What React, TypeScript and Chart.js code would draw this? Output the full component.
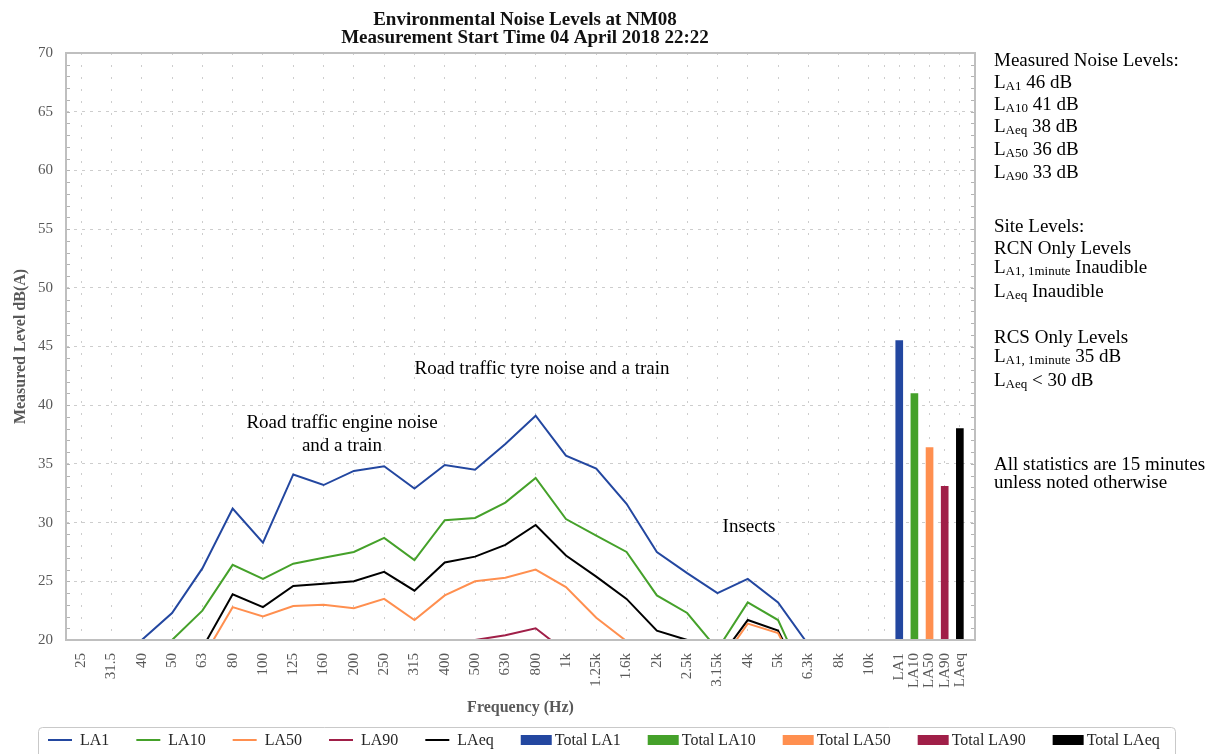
import React, { useEffect, useRef } from 'react';
import { Chart, registerables } from 'chart.js';

Chart.register(...registerables);

// ---------- data ----------
const FREQUENCIES = ['25', '31.5', '40', '50', '63', '80', '100', '125', '160', '200', '250', '315', '400', '500', '630', '800', '1k', '1.25k', '1.6k', '2k', '2.5k', '3.15k', '4k', '5k', '6.3k', '8k', '10k'];
const TOTAL_LABELS = ['LA1', 'LA10', 'LA50', 'LA90', 'LAeq'];
const TOTAL_POSITIONS = [27, 27.5, 28, 28.5, 29];
const SEPARATOR_TICK = 26.5;

const LA1_VALUES = [null, null, 20.0, 22.3, 26.1, 31.2, 28.3, 34.1, 33.2, 34.4, 34.8, 32.9, 34.9, 34.5, 36.7, 39.1, 35.7, 34.6, 31.6, 27.5, 25.7, 24.0, 25.2, 23.2, 19.6, null, null];
const LA10_VALUES = [null, null, null, 20.0, 22.5, 26.4, 25.2, 26.5, 27.0, 27.5, 28.7, 26.8, 30.2, 30.4, 31.7, 33.8, 30.3, 28.9, 27.5, 23.8, 22.3, 19.2, 23.2, 21.7, 16.1, null, null];
const LA50_VALUES = [null, null, null, null, 18.4, 22.8, 22.0, 22.9, 23.0, 22.7, 23.5, 21.7, 23.8, 25.0, 25.3, 26.0, 24.5, 21.9, 19.9, null, null, 17.7, 21.4, 20.6, 15.5, null, null];
const LA90_VALUES = [null, null, null, null, null, null, null, null, null, null, null, null, null, 20.0, 20.4, 21.0, 19.0, null, null, null, null, null, null, null, null, null, null];
const LAEQ_VALUES = [null, null, null, null, 19.3, 23.9, 22.8, 24.6, 24.8, 25.0, 25.8, 24.2, 26.6, 27.1, 28.1, 29.8, 27.2, 25.4, 23.5, 20.8, 20.0, 18.2, 21.7, 20.8, 15.7, null, null];

const TOTAL_VALUES = [45.5, 41.0, 36.4, 33.1, 38.0];

const SERIES_NAMES = ['LA1', 'LA10', 'LA50', 'LA90', 'LAeq'];
const SERIES_VALUES = [LA1_VALUES, LA10_VALUES, LA50_VALUES, LA90_VALUES, LAEQ_VALUES];
const SERIES_COLORS = ['#2347A0', '#45A12A', '#FF8F4F', '#A01F48', '#000000'];
const TOTAL_NAMES = ['Total LA1', 'Total LA10', 'Total LA50', 'Total LA90', 'Total LAeq'];

const TITLE_LINES = ['Environmental Noise Levels at NM08', 'Measurement Start Time 04 April 2018 22:22'];
const X_TITLE = 'Frequency (Hz)';
const Y_TITLE = 'Measured Level dB(A)';

const ANNOTATIONS = [
  { text: 'Road traffic tyre noise and a train', x: 542, y: 374 },
  { text: 'Road traffic engine noise', x: 342, y: 428 },
  { text: 'and a train', x: 342, y: 451 },
  { text: 'Insects', x: 749, y: 532 },
];

// side panel: [text, isSubscript]
const PANEL_LINES: [string, boolean][][] = [
  [['Measured Noise Levels:', false]],
  [['L', false], ['A1', true], [' 46 dB', false]],
  [['L', false], ['A10', true], [' 41 dB', false]],
  [['L', false], ['Aeq', true], [' 38 dB', false]],
  [['L', false], ['A50', true], [' 36 dB', false]],
  [['L', false], ['A90', true], [' 33 dB', false]],
  [['Site Levels:', false]],
  [['RCN Only Levels', false]],
  [['L', false], ['A1, 1minute', true], [' Inaudible', false]],
  [['L', false], ['Aeq', true], [' Inaudible', false]],
  [['RCS Only Levels', false]],
  [['L', false], ['A1, 1minute', true], [' 35 dB', false]],
  [['L', false], ['Aeq', true], [' < 30 dB', false]],
  [['All statistics are 15 minutes', false]],
  [['unless noted otherwise', false]],
];
const PANEL_BASELINES = [66, 87.5, 109.5, 131.5, 155, 177.5, 232, 254, 272.5, 297, 343, 362, 386, 470, 488];

// ---------- style ----------
const SERIF = '"Liberation Serif", "Times New Roman", serif';
const AXIS_GREY = '#595959';
const GRID_GREY = '#cdcdcd';
const FRAME_GREY = '#bfbfbf';

const X_TICK_VALUES = [...FREQUENCIES.map((_, i) => i), SEPARATOR_TICK, ...TOTAL_POSITIONS];

function xLabel(v: number): string {
  if (Number.isInteger(v) && v >= 0 && v < FREQUENCIES.length) return FREQUENCIES[v];
  const k = TOTAL_POSITIONS.indexOf(v);
  return k >= 0 ? TOTAL_LABELS[k] : '';
}

const decorPlugin = {
  id: 'decor',
  afterDatasetsDraw(chart: any) {
    const { ctx, chartArea } = chart;
    const { left, top, right, bottom } = chartArea;
    const y = chart.scales.y;
    ctx.save();
    ctx.strokeStyle = '#b3b3b3';
    ctx.lineWidth = 1;
    ctx.beginPath();
    for (let v = 21; v < 70; v++) {
      const py = Math.round(y.getPixelForValue(v)) + 0.5;
      ctx.moveTo(left, py);
      ctx.lineTo(left + 4, py);
      ctx.moveTo(right - 4, py);
      ctx.lineTo(right, py);
    }
    ctx.stroke();
    ctx.strokeStyle = FRAME_GREY;
    ctx.lineWidth = 2;
    ctx.strokeRect(left, top, right - left, bottom - top);
    ctx.restore();
  },
  afterDraw(chart: any) {
    const { ctx, chartArea } = chart;
    ctx.save();
    // title
    ctx.fillStyle = '#111111';
    ctx.font = `bold 19px ${SERIF}`;
    ctx.textAlign = 'center';
    ctx.textBaseline = 'alphabetic';
    ctx.fillText(TITLE_LINES[0], 525, 25);
    ctx.fillText(TITLE_LINES[1], 525, 43);

    // axis titles
    ctx.fillStyle = AXIS_GREY;
    ctx.font = `bold 16px ${SERIF}`;
    ctx.fillText(X_TITLE, (chartArea.left + chartArea.right) / 2, 712);
    ctx.save();
    ctx.translate(21, (chartArea.top + chartArea.bottom) / 2);
    ctx.rotate(-Math.PI / 2);
    ctx.textBaseline = 'middle';
    ctx.fillText(Y_TITLE, 0, 0);
    ctx.restore();

    // annotations
    ctx.fillStyle = '#000000';
    ctx.font = `19px ${SERIF}`;
    ctx.textAlign = 'center';
    ctx.textBaseline = 'alphabetic';
    ANNOTATIONS.forEach((a) => ctx.fillText(a.text, a.x, a.y));

    // side panel
    ctx.textAlign = 'left';
    PANEL_LINES.forEach((parts, i) => {
      let x = 994;
      const base = PANEL_BASELINES[i];
      parts.forEach(([t, sub]) => {
        ctx.font = sub ? `13px ${SERIF}` : `19px ${SERIF}`;
        ctx.fillText(t, x, sub ? base + 2 : base);
        x += ctx.measureText(t).width;
      });
    });

    // legend
    ctx.strokeStyle = '#c9c9c9';
    ctx.lineWidth = 1;
    ctx.beginPath();
    const lx = 38.5, ly = 727.5, lw = 1137, lh = 40, r = 4;
    ctx.moveTo(lx + r, ly);
    ctx.lineTo(lx + lw - r, ly);
    ctx.quadraticCurveTo(lx + lw, ly, lx + lw, ly + r);
    ctx.lineTo(lx + lw, ly + lh);
    ctx.moveTo(lx, ly + lh);
    ctx.lineTo(lx, ly + r);
    ctx.quadraticCurveTo(lx, ly, lx + r, ly);
    ctx.stroke();

    ctx.font = `16px ${SERIF}`;
    ctx.textBaseline = 'middle';
    const cy = 740;
    let x = 48;
    SERIES_NAMES.forEach((name, i) => {
      ctx.strokeStyle = SERIES_COLORS[i];
      ctx.lineWidth = 2;
      ctx.beginPath();
      ctx.moveTo(x, cy);
      ctx.lineTo(x + 24, cy);
      ctx.stroke();
      ctx.fillStyle = '#262626';
      ctx.fillText(name, x + 32, cy + 1);
      x += 32 + ctx.measureText(name).width + 27;
    });
    TOTAL_NAMES.forEach((name, i) => {
      ctx.fillStyle = SERIES_COLORS[i];
      ctx.fillRect(x, cy - 5, 31, 10);
      ctx.fillStyle = '#262626';
      ctx.fillText(name, x + 34, cy + 1);
      x += 34 + ctx.measureText(name).width + 27;
    });
    ctx.restore();
  },
};

export default function App() {
  const canvasRef = useRef<HTMLCanvasElement | null>(null);

  useEffect(() => {
    const canvas = canvasRef.current;
    if (!canvas) return;

    const lineDatasets = SERIES_NAMES.map((name, i) => ({
      type: 'line' as const,
      label: name,
      data: SERIES_VALUES[i].map((v, k) => ({ x: k, y: v })),
      borderColor: SERIES_COLORS[i],
      backgroundColor: SERIES_COLORS[i],
      borderWidth: 2,
      pointRadius: 0,
      tension: 0,
      spanGaps: false,
      clip: 0,
    }));

    const barDatasets = TOTAL_NAMES.map((name, i) => ({
      type: 'bar' as const,
      label: name,
      data: [{ x: TOTAL_POSITIONS[i], y: TOTAL_VALUES[i] }],
      backgroundColor: SERIES_COLORS[i],
      borderWidth: 0,
      barThickness: 7,
      grouped: false,
      base: 20,
    }));

    const chart = new Chart(canvas, {
      type: 'line',
      data: { datasets: [...lineDatasets, ...barDatasets] as any },
      options: {
        animation: false,
        responsive: false,
        maintainAspectRatio: false,
        layout: { padding: { top: 53, right: 241, left: 0, bottom: 0 } },
        plugins: {
          legend: { display: false },
          tooltip: { enabled: false },
          title: { display: false },
        },
        scales: {
          x: {
            type: 'linear',
            min: -0.5,
            max: 29.5,
            offset: false,
            afterBuildTicks: (s: any) => {
              s.ticks = X_TICK_VALUES.map((v) => ({ value: v }));
            },
            afterFit: (s: any) => {
              s.height = 114;
            },
            ticks: {
              autoSkip: false,
              minRotation: 90,
              maxRotation: 90,
              padding: 13,
              color: AXIS_GREY,
              font: { family: SERIF, size: 15 },
              callback: (v: any) => xLabel(Number(v)),
            },
            grid: { color: GRID_GREY, lineWidth: 1, drawTicks: false, offset: false },
            border: { display: false, dash: [2, 10] },
          },
          y: {
            type: 'linear',
            min: 20,
            max: 70,
            afterFit: (s: any) => {
              s.width = 66;
            },
            ticks: {
              stepSize: 5,
              padding: 13,
              color: AXIS_GREY,
              font: { family: SERIF, size: 15 },
            },
            grid: { color: GRID_GREY, lineWidth: 1, drawTicks: false },
            border: { display: false, dash: [3, 5] },
          },
        },
      } as any,
      plugins: [decorPlugin],
    });

    return () => chart.destroy();
  }, []);

  return (
    <div style={{ position: 'absolute', left: 0, top: 0, width: 1216, height: 754, background: '#ffffff' }}>
      <canvas ref={canvasRef} width={1216} height={754} style={{ display: 'block' }} />
    </div>
  );
}
